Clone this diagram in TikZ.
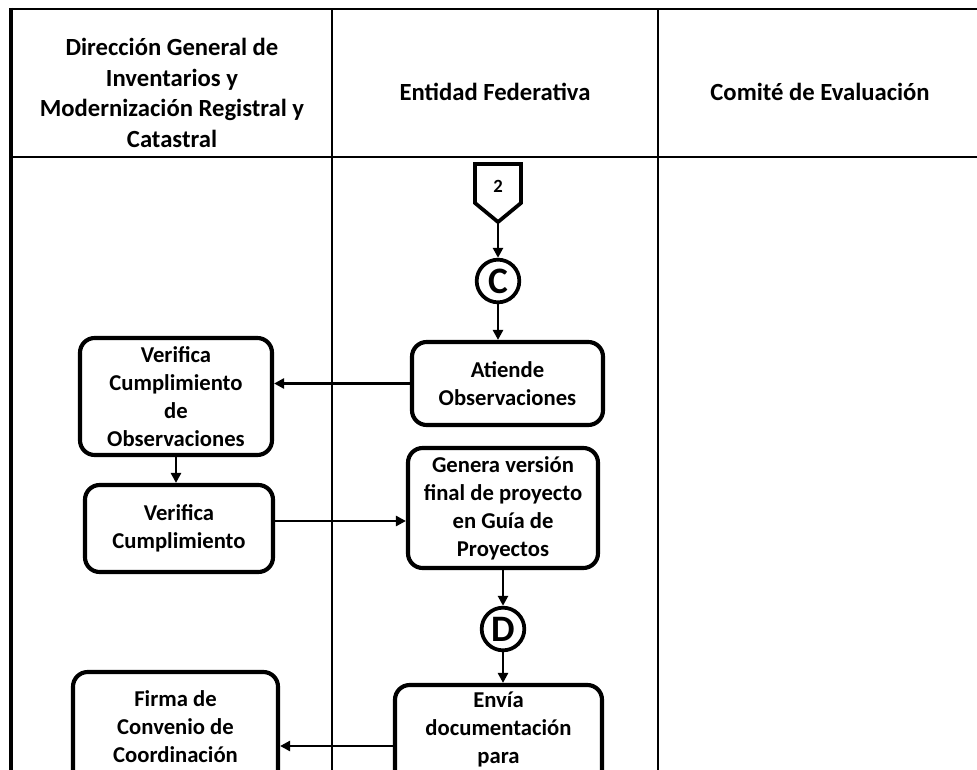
\documentclass[tikz,border=0pt]{standalone}
\usepackage{fontspec}
\setmainfont{Carlito}
\usetikzlibrary{arrows.meta}
\begin{document}
\begin{tikzpicture}[x=0.75pt,y=-0.75pt,
  box/.style={draw,line width=3.1pt,rounded corners=11pt,align=center,inner sep=0pt,font=\fontsize{17}{21}\selectfont\bfseries},
  boxtext/.style={align=center,inner sep=0pt,font=\fontsize{17}{21}\selectfont\bfseries},
  conn/.style={draw,circle,line width=2.8pt,inner sep=0pt,minimum size=32pt,font=\fontsize{28}{28}\selectfont\bfseries},
  arr/.style={line width=1.9pt,-{Triangle[length=7.5pt,width=7.5pt]}},
  frame/.style={line width=2.2pt},
  head/.style={align=center,font=\fontsize{18.5}{23}\selectfont\bfseries}]
\useasboundingbox (0,0) rectangle (977,770);
\clip (0,0) rectangle (977,770);
% frame
\draw[frame] (977,9) -- (11,9);
\draw[line width=3pt] (11,8) -- (11,790);
\draw[frame] (11,157) -- (977,157);
\draw[line width=1.8pt] (332,9) -- (332,790);
\draw[line width=1.8pt] (658,9) -- (658,790);
% headers
\node[head] (h1) at (172,93) {Dirección General de\\Inventarios y\\Modernización Registral y\\Catastral};
\node[head] (h2) at (495,92) {Entidad Federativa};
\node[head] (h3) at (820,92) {Comité de Evaluación};
% off-page connector
\node[font=\fontsize{14}{14}\selectfont\bfseries,inner sep=0pt] (p2) at (498,186) {2};
\draw[line width=2.8pt,line join=miter] (475,164) -- (521,164) -- (521,203) -- (498,222) -- (475,203) -- cycle;
\coordinate (p2tip) at (498,222);
% connector C
\node[conn] (cC) at (498,281) {C};
\draw[arr] (p2tip) -- (cC.north);
% boxes
\node[box,minimum width=143.25pt,minimum height=62.25pt] (atiende) at (507.5,383.5) {Atiende\\Observaciones};
\draw[arr] (cC.south) -- (cC.south |- atiende.north);
\node[box,minimum width=144pt,minimum height=87.75pt] (vco) at (176,396.5) {Verifica\\Cumplimiento\\de\\Observaciones};
\draw[arr] (atiende.west) -- (vco.east |- atiende.west);
\node[box,minimum width=141pt,minimum height=65.25pt] (vc) at (179,528.5) {Verifica\\Cumplimiento};
\draw[arr] (vco.south) -- (vco.south |- vc.north);
\node[box,minimum width=142.5pt,minimum height=90pt] (genera) at (503,508) {Genera versión\\final de proyecto\\en Guía de\\Proyectos};
\coordinate (yvc) at (0,521);
\draw[arr] (vc.east |- yvc) -- (genera.west |- yvc);
\node[conn] (cD) at (503,629) {D};
\draw[arr] (genera.south) -- (cD.north);
\node[box,minimum width=155.25pt,minimum height=97.5pt] (envia) at (498.5,750) {};
\node[boxtext,anchor=north] (enviatxt) at (498.5,692) {Envía\\documentación\\para};
\draw[arr] (cD.south) -- (cD.south |- envia.north);
\node[box,minimum width=153.75pt,minimum height=90pt] (firma) at (175.5,732) {};
\node[boxtext,anchor=north] (firmatxt) at (175.5,690) {Firma de\\Convenio de\\Coordinación};
\coordinate (yenv) at (0,746);
\draw[arr] (envia.west |- yenv) -- (firma.east |- yenv);
\end{tikzpicture}
\end{document}
